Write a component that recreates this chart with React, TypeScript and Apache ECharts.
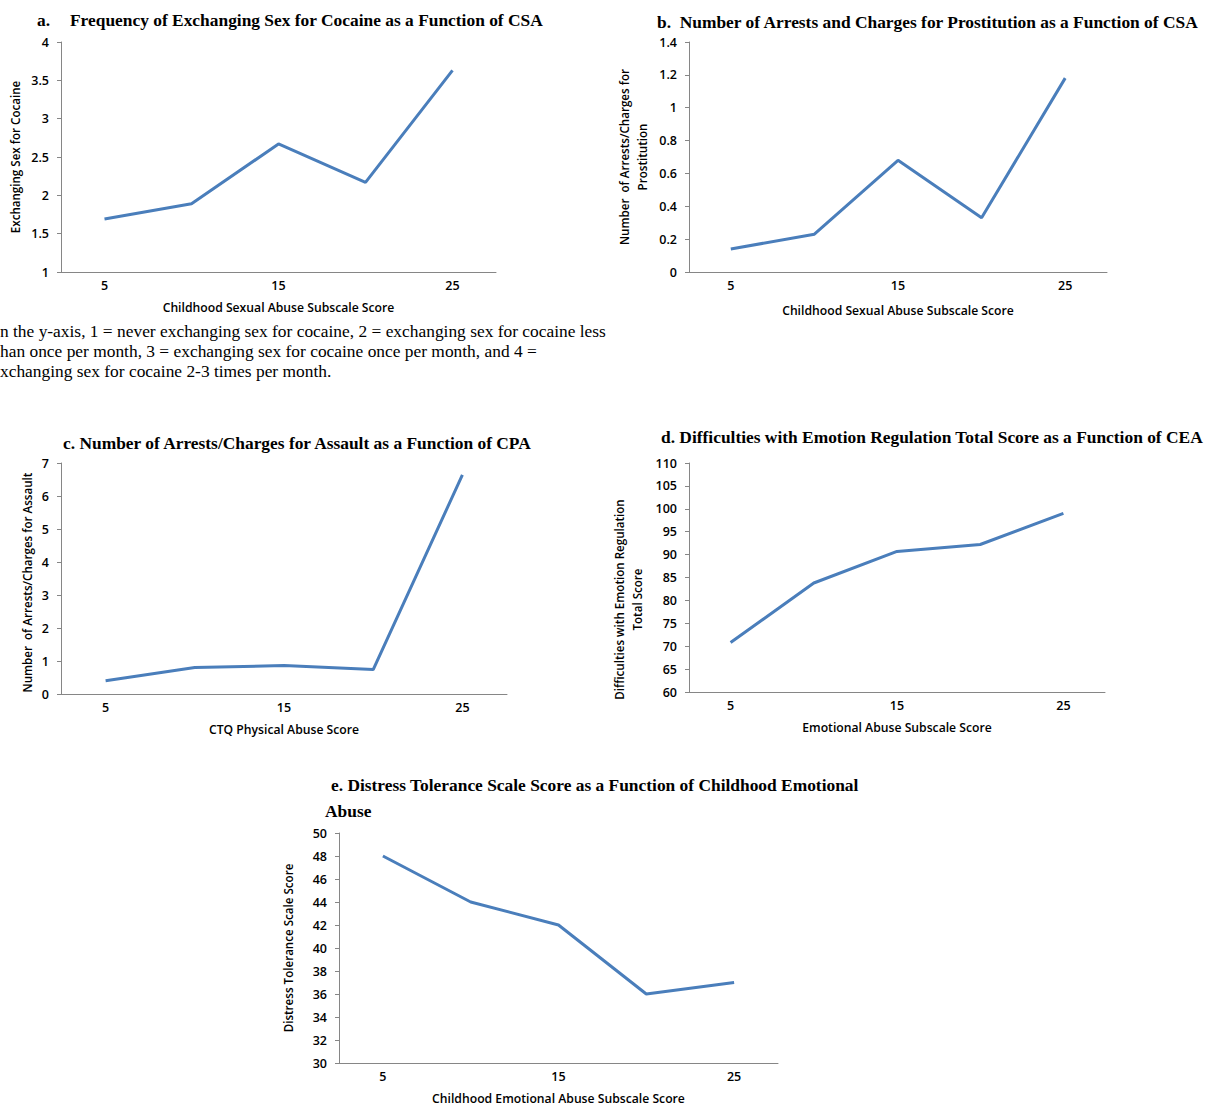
import React, { useEffect, useRef } from "react";
import * as echarts from "echarts";

const xCats = ["5", "10", "15", "20", "25"];
const cocaineVals = [1.69, 1.89, 2.67, 2.17, 3.63];
const prostitutionVals = [0.14, 0.23, 0.68, 0.33, 1.18];
const assaultVals = [0.4, 0.8, 0.86, 0.74, 6.64];
const dersVals = [70.8, 83.8, 90.7, 92.2, 99.0];
const dtsVals = [48, 44, 42, 36, 37];

const noteLines = [
  "n the y-axis, 1 = never exchanging sex for cocaine, 2 = exchanging sex for cocaine less",
  "han once per month, 3 = exchanging sex for cocaine once per month, and 4 =",
  "xchanging sex for cocaine 2-3 times per month.",
];

const LINE = "#4a7ebb";
const AXIS = "#868686";
const SANS = "'Open Sans', 'Noto Sans', sans-serif";
const SERIF = "'Liberation Serif', 'Times New Roman', serif";

export default function App() {
  const ref = useRef<HTMLDivElement>(null);
  useEffect(() => {
    if (!ref.current) return;
    const chart = echarts.init(ref.current, null, { renderer: "svg" });

    const panels = [
      { grid: { left: 61, top: 42, width: 435, height: 230 }, data: cocaineVals, min: 1, max: 4, interval: 0.5, xName: "Childhood Sexual Abuse Subscale Score", xGap: 29, yName: "Exchanging Sex for Cocaine", yGap: 37, yPad: [0, 0, 0, 0] },
      { grid: { left: 689, top: 42, width: 418, height: 230 }, data: prostitutionVals, min: 0, max: 1.4, interval: 0.2, xName: "Childhood Sexual Abuse Subscale Score", xGap: 32, yName: "Number  of Arrests/Charges for\nProstitution", yGap: 38, yPad: [0, 0, 0, 0] },
      { grid: { left: 61, top: 463, width: 446, height: 231 }, data: assaultVals, min: 0, max: 7, interval: 1, xName: "CTQ Physical Abuse Score", xGap: 29, yName: "Number  of Arrests/Charges for Assault", yGap: 25, yPad: [0, 8, 0, 0] },
      { grid: { left: 689, top: 463, width: 416, height: 229 }, data: dersVals, min: 60, max: 110, interval: 5, xName: "Emotional Abuse Subscale Score", xGap: 29, yName: "Difficulties with Emotion Regulation\nTotal Score", yGap: 43, yPad: [0, 44, 0, 0] },
      { grid: { left: 339, top: 833, width: 439, height: 230 }, data: dtsVals, min: 30, max: 50, interval: 2, xName: "Childhood Emotional Abuse Subscale Score", xGap: 29, yName: "Distress Tolerance Scale Score", yGap: 42, yPad: [0, 0, 0, 0] },
    ];

    const titleStyle = { fontFamily: SERIF, fontWeight: "bold" as const, fontSize: 17.4, color: "#000" };
    const titles = [
      { text: "a.", left: 37, top: 11 },
      { text: "Frequency of Exchanging Sex for Cocaine as a Function of CSA", left: 70, top: 11 },
      { text: "b.  Number of Arrests and Charges for Prostitution as a Function of CSA", left: 657, top: 13 },
      { text: "c. Number of Arrests/Charges for Assault as a Function of CPA", left: 63, top: 434 },
      { text: "d. Difficulties with Emotion Regulation Total Score as a Function of CEA", left: 661, top: 428 },
      { text: "e. Distress Tolerance Scale Score as a Function of Childhood Emotional", left: 331, top: 776 },
      { text: "Abuse", left: 325, top: 802 },
    ].map((t) => ({ ...t, padding: 0, textStyle: titleStyle }));

    const labelFont = { fontFamily: SANS, fontSize: 12.5, fontWeight: 600, color: "#000" };
    const nameFont = { fontFamily: SANS, fontSize: 12.2, fontWeight: 600, color: "#000" };

    const option: any = {
      animation: false,
      backgroundColor: "#fff",
      title: titles,
      grid: panels.map((p) => ({ ...p.grid, containLabel: false })),
      xAxis: panels.map((p, i) => ({
        type: "category",
        gridIndex: i,
        data: xCats,
        boundaryGap: true,
        axisLine: { lineStyle: { color: AXIS, width: 1 } },
        axisTick: { show: false },
        axisLabel: { interval: 1, margin: 7, ...labelFont },
        splitLine: { show: false },
        name: p.xName,
        nameLocation: "middle",
        nameGap: p.xGap,
        nameTextStyle: nameFont,
      })),
      yAxis: panels.map((p, i) => ({
        type: "value",
        gridIndex: i,
        min: p.min,
        max: p.max,
        interval: p.interval,
        axisLine: { show: true, lineStyle: { color: AXIS, width: 1 } },
        axisTick: { show: true, length: 4, lineStyle: { color: AXIS } },
        axisLabel: { margin: 12, ...labelFont },
        splitLine: { show: false },
        name: p.yName,
        nameLocation: "middle",
        nameGap: p.yGap,
        nameTextStyle: { ...nameFont, fontSize: 11.6, lineHeight: 18, padding: p.yPad },
      })),
      series: panels.map((p, i) => ({
        type: "line",
        xAxisIndex: i,
        yAxisIndex: i,
        data: p.data,
        symbol: "none",
        lineStyle: { color: LINE, width: 3 },
      })),
      graphic: noteLines.map((t, i) => ({
        type: "text",
        left: 0,
        top: 322 + i * 20,
        style: { text: t, font: `17.4px ${SERIF}`, fill: "#000" },
      })),
    };
    chart.setOption(option);
    return () => chart.dispose();
  }, []);
  return <div ref={ref} style={{ position: "absolute", left: 0, top: 0, width: 1206, height: 1106 }} />;
}
